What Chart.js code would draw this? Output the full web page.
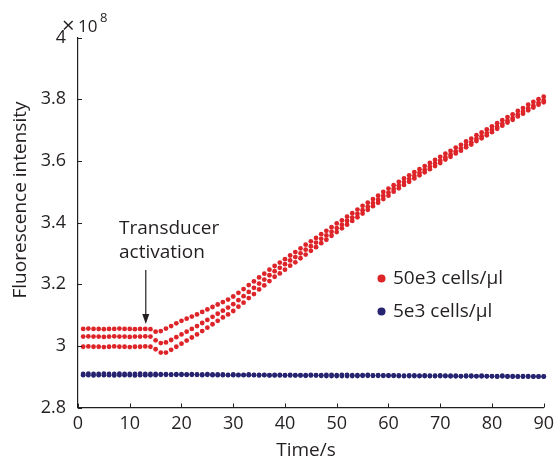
<!DOCTYPE html>
<html>
<head>
<meta charset="utf-8">
<script src="https://cdn.jsdelivr.net/npm/chart.js@4.4.1/dist/chart.umd.min.js"></script>
<style>
html, body { margin: 0; padding: 0; background: #fff; }
</style>
</head>
<body>
<canvas id="fluo" width="560" height="459"></canvas>
<script>
// time in seconds, intensity in units of 1e8
const time = [1,2,3,4,5,6,7,8,9,10,11,12,13,14,15,16,17,18,19,20,21,22,23,24,25,26,27,28,29,30,
  31,32,33,34,35,36,37,38,39,40,41,42,43,44,45,46,47,48,49,50,51,52,53,54,55,56,57,58,59,60,
  61,62,63,64,65,66,67,68,69,70,71,72,73,74,75,76,77,78,79,80,81,82,83,84,85,86,87,88,89,90];

const redTop = [3.055,3.056,3.055,3.055,3.054,3.055,3.055,3.056,3.055,3.055,
  3.054,3.055,3.055,3.054,3.046,3.048,3.056,3.064,3.073,3.081,
  3.088,3.095,3.102,3.110,3.118,3.126,3.134,3.142,3.150,3.160,
  3.172,3.184,3.197,3.209,3.222,3.234,3.247,3.259,3.270,3.281,
  3.293,3.304,3.316,3.328,3.339,3.350,3.362,3.373,3.385,3.397,
  3.407,3.419,3.430,3.442,3.454,3.464,3.476,3.487,3.499,3.510,
  3.521,3.532,3.543,3.553,3.563,3.573,3.583,3.593,3.603,3.613,
  3.623,3.632,3.643,3.652,3.663,3.672,3.683,3.692,3.702,3.712,
  3.722,3.732,3.742,3.751,3.762,3.771,3.782,3.791,3.800,3.808];

const redMid = [3.030,3.031,3.030,3.030,3.029,3.030,3.031,3.030,3.030,3.029,
  3.030,3.030,3.031,3.030,3.018,3.009,3.011,3.019,3.028,3.037,
  3.046,3.055,3.064,3.074,3.084,3.094,3.104,3.114,3.124,3.135,
  3.148,3.161,3.175,3.188,3.202,3.215,3.229,3.242,3.253,3.265,
  3.277,3.288,3.300,3.312,3.323,3.335,3.347,3.358,3.370,3.382,
  3.393,3.405,3.416,3.428,3.440,3.451,3.463,3.474,3.486,3.497,
  3.509,3.520,3.531,3.541,3.551,3.561,3.571,3.581,3.591,3.601,
  3.611,3.620,3.631,3.640,3.651,3.660,3.671,3.680,3.690,3.700,
  3.710,3.720,3.730,3.739,3.750,3.759,3.770,3.779,3.788,3.796];

const redLow = [2.997,2.998,2.997,2.997,2.996,2.997,2.998,2.997,2.997,2.996,
  2.997,2.997,2.998,2.997,2.989,2.978,2.978,2.987,2.997,3.007,
  3.017,3.027,3.037,3.048,3.059,3.070,3.081,3.092,3.102,3.113,
  3.127,3.140,3.155,3.168,3.183,3.196,3.210,3.224,3.235,3.247,
  3.260,3.271,3.284,3.296,3.308,3.320,3.333,3.344,3.357,3.369,
  3.381,3.393,3.405,3.417,3.429,3.441,3.453,3.464,3.476,3.487,
  3.500,3.511,3.522,3.532,3.543,3.553,3.563,3.573,3.583,3.593,
  3.604,3.613,3.624,3.633,3.644,3.653,3.664,3.673,3.683,3.693,
  3.704,3.714,3.724,3.733,3.744,3.753,3.764,3.773,3.782,3.790];

const blueA = [2.909,2.910,2.909,2.909,2.910,2.909,2.909,2.910,2.909,2.909,2.909,2.910,2.909,2.909,2.909,
  2.908,2.908,2.907,2.908,2.908,2.907,2.908,2.907,2.907,2.908,2.907,2.907,2.907,2.906,2.907,
  2.906,2.906,2.907,2.906,2.906,2.906,2.905,2.906,2.906,2.905,2.906,2.905,2.905,2.905,2.906,
  2.905,2.905,2.906,2.906,2.905,2.906,2.906,2.905,2.905,2.905,2.906,2.904,2.905,2.904,2.904,
  2.904,2.904,2.903,2.904,2.904,2.903,2.904,2.903,2.903,2.904,2.903,2.903,2.903,2.902,2.903,
  2.903,2.902,2.903,2.902,2.902,2.902,2.903,2.902,2.902,2.901,2.902,2.902,2.901,2.901,2.901];

const blueB = [2.905,2.905,2.904,2.905,2.905,2.905,2.904,2.905,2.905,2.905,2.904,2.905,2.905,2.905,2.905,
  2.906,2.906,2.906,2.906,2.906,2.906,2.906,2.906,2.905,2.906,2.905,2.905,2.905,2.905,2.905,
  2.905,2.905,2.905,2.905,2.904,2.905,2.904,2.904,2.904,2.904,2.904,2.904,2.904,2.903,2.904,
  2.904,2.903,2.902,2.902,2.902,2.902,2.902,2.902,2.902,2.903,2.903,2.903,2.903,2.903,2.903,
  2.903,2.902,2.902,2.902,2.902,2.902,2.902,2.902,2.902,2.902,2.902,2.901,2.901,2.901,2.901,
  2.901,2.901,2.901,2.901,2.901,2.900,2.901,2.900,2.900,2.900,2.900,2.900,2.900,2.900,2.900];

const xTicks = [0,10,20,30,40,50,60,70,80,90];
const yTicks = [2.8,3,3.2,3.4,3.6,3.8,4];
const legendLabels = ['50e3 cells/\u03bcl', '5e3 cells/\u03bcl'];

const red = 'rgb(221,36,41)';
const blue = 'rgb(38,35,112)';
const ink = '#231f20';
const fam = '"Open Sans", "DejaVu Sans", sans-serif';

const pts = vals => time.map((t, i) => ({x: t, y: vals[i]}));
const dotSet = (vals, color) => ({
  data: pts(vals),
  showLine: false,
  pointRadius: 2.4,
  pointBackgroundColor: color,
  pointBorderWidth: 0,
  clip: false
});

const extras = {
  id: 'extras',
  afterDraw(chart) {
    const {ctx, chartArea: ca} = chart;
    const x = chart.scales.x, y = chart.scales.y;
    ctx.save();
    ctx.strokeStyle = ink;
    ctx.lineWidth = 1;
    // inward tick marks
    x.ticks.forEach(t => {
      const px = Math.round(x.getPixelForValue(t.value)) + 0.5;
      ctx.beginPath(); ctx.moveTo(px, ca.bottom); ctx.lineTo(px, ca.bottom - 4); ctx.stroke();
    });
    y.ticks.forEach(t => {
      const py = Math.round(y.getPixelForValue(t.value)) + 0.5;
      ctx.beginPath(); ctx.moveTo(ca.left, py); ctx.lineTo(ca.left + 4, py); ctx.stroke();
    });

    ctx.fillStyle = ink;
    // exponent
    ctx.textAlign = 'left';
    ctx.textBaseline = 'alphabetic';
    ctx.font = '22px ' + fam;
    ctx.fillText('\u00d7', 62, 33);
    ctx.font = '17px ' + fam;
    ctx.fillText('10', 78, 32);
    ctx.font = '13px ' + fam;
    ctx.fillText('8', 100, 22);

    // axis titles
    ctx.font = '19px ' + fam;
    ctx.textAlign = 'center';
    ctx.fillText('Time/s', 306, 456);
    ctx.save();
    ctx.translate(26, 200);
    ctx.rotate(-Math.PI / 2);
    ctx.fillText('Fluorescence intensity', 0, 0);
    ctx.restore();

    // annotation
    ctx.textAlign = 'left';
    ctx.fillText('Transducer', 119, 234);
    ctx.fillText('activation', 119, 258);
    const ax = x.getPixelForValue(13.1);
    const yTop = y.getPixelForValue(3.246), yTip = y.getPixelForValue(3.071);
    ctx.lineWidth = 1.2;
    ctx.beginPath(); ctx.moveTo(ax, yTop); ctx.lineTo(ax, yTip - 8); ctx.stroke();
    ctx.beginPath();
    ctx.moveTo(ax, yTip); ctx.lineTo(ax - 3.5, yTip - 10); ctx.lineTo(ax + 3.5, yTip - 10);
    ctx.closePath(); ctx.fill();

    // legend
    const lx = 381.5;
    [[red, 278.5], [blue, 311.5]].forEach(([c, ly], i) => {
      ctx.fillStyle = c;
      ctx.beginPath(); ctx.arc(lx, ly, 4, 0, Math.PI * 2); ctx.fill();
      ctx.fillStyle = ink;
      ctx.textBaseline = 'middle';
      ctx.fillText(legendLabels[i], 393, ly);
    });
    ctx.restore();
  }
};

new Chart(document.getElementById('fluo'), {
  type: 'scatter',
  data: {
    datasets: [
      dotSet(blueB, blue),
      dotSet(blueA, blue),
      dotSet(redLow, red),
      dotSet(redMid, red),
      dotSet(redTop, red)
    ]
  },
  options: {
    responsive: false,
    animation: false,
    events: [],
    layout: { padding: { top: 37.5, right: 11, left: 0, bottom: 0 } },
    plugins: { legend: { display: false }, tooltip: { enabled: false } },
    scales: {
      x: {
        type: 'linear',
        min: 0, max: 90,
        afterBuildTicks: s => { s.ticks = xTicks.map(v => ({value: v})); },
        afterFit: s => { s.height = 51.5; },
        grid: { display: false, drawTicks: false },
        border: { display: true, color: ink, width: 1.2 },
        ticks: { color: ink, font: { family: fam, size: 18 }, padding: 6, maxRotation: 0 }
      },
      y: {
        type: 'linear',
        min: 2.8, max: 4,
        afterBuildTicks: s => { s.ticks = yTicks.map(v => ({value: v})); },
        afterFit: s => { s.width = 78; },
        grid: { display: false, drawTicks: false },
        border: { display: true, color: ink, width: 1.2 },
        ticks: {
          color: ink, font: { family: fam, size: 18 }, padding: 12,
          callback: v => String(Number(v.toFixed(1)))
        }
      }
    }
  },
  plugins: [extras]
});
</script>
</body>
</html>
